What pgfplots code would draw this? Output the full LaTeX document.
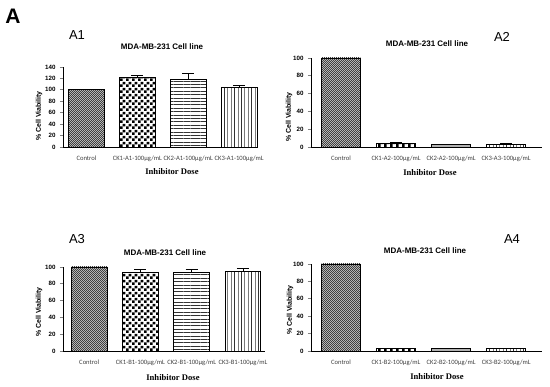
\documentclass[border=0pt]{standalone}
\usepackage{pgfplots}
\pgfplotsset{compat=1.18}
\usepackage{fontspec}
\setmainfont{Liberation Sans}
\newfontfamily\arial{Liberation Sans}
\newfontfamily\calib{Carlito}
\newfontfamily\tnr{Liberation Serif}
\usetikzlibrary{patterns.meta}
\tikzdeclarepattern{name=finecheck, type=uncolored, bounding box={(0,0) and (2.4pt,2.4pt)}, tile size={(2.4pt,2.4pt)},
  code={\fill (0,0) rectangle (1.2pt,1.2pt); \fill (1.2pt,1.2pt) rectangle (2.4pt,2.4pt);}}
\tikzdeclarepattern{name=bigcheck, type=uncolored, bounding box={(0,0) and (6pt,6pt)}, tile size={(6pt,6pt)},
  code={\fill (0,0) rectangle (3pt,3pt); \fill (3pt,3pt) rectangle (6pt,6pt);}}
\tikzdeclarepattern{name=hlines, type=uncolored, bounding box={(0,-0.5pt) and (3.4pt,0.5pt)}, tile size={(3.4pt,3.4pt)},
  code={\draw[line width=0.9pt] (0,0) -- (3.4pt,0);}}
\tikzdeclarepattern{name=vlines, type=uncolored, bounding box={(-0.5pt,0) and (0.5pt,3.4pt)}, tile size={(3.4pt,3.4pt)},
  code={\draw[line width=0.9pt] (0,0) -- (0,3.4pt);}}
\pgfplotsset{
  panel/.style={
    scale only axis, axis lines=left, axis line style={-, line width=0.9pt},
    enlargelimits=false, ymin=0,
    xtick={0,1,2,3}, xtick style={draw=none},
    tick align=outside, major tick length=3pt, ytick style={line width=0.7pt},
    yticklabel style={font=\arial\bfseries\fontsize{6.2}{7}\selectfont, xshift=-1pt},
    xticklabel style={font=\calib\fontsize{6.6}{7.5}\selectfont, text=black!75, yshift=-2.5pt},
    /pgf/number format/assume math mode=true,
  },
  bb/.style={ybar, bar width=0.7, bar shift=0pt, draw=black, line width=0.9pt},
  ctrl/.style={bb, fill=gray!45, postaction={pattern={finecheck}, pattern color=black!75}},
  ck1/.style={bb, fill=white, postaction={pattern={bigcheck}, pattern color=black}},
  ck2/.style={bb, fill=white, postaction={pattern={hlines}, pattern color=black!80}},
  ck3/.style={bb, fill=white, postaction={pattern={vlines}, pattern color=black!80}},
  eb/.style={error bars/.cd, y dir=plus, y explicit, error mark options={rotate=90, mark size=6pt, line width=0.9pt}, error bar style={line width=0.9pt}},
}
\newcommand{\ttl}{\arial\bfseries\fontsize{8}{9}\selectfont}
\newcommand{\ylab}{\arial\bfseries\fontsize{7}{8}\selectfont}
\newcommand{\xlab}{\tnr\bfseries\fontsize{8.6}{10}\selectfont}
\newcommand{\plab}{\arial\fontsize{13}{15}\selectfont}
\begin{document}
\begin{tikzpicture}
\useasboundingbox (0pt,0pt) rectangle (550pt,387pt);
\node[font=\arial\bfseries\fontsize{21}{24}\selectfont] at (13pt,371pt) {A};
% A1
\begin{axis}[panel, at={(63pt,240pt)}, anchor=south west, width=195pt, height=80pt,
  xmin=-0.46, xmax=3.37, ymax=140, ytick={0,20,...,140},
  xticklabels={Control, CK1-A1-100\textmu g/mL, CK2-A1-100\textmu g/mL, CK3-A1-100\textmu g/mL}]
\addplot[ctrl] coordinates {(0,100)};
\addplot[ck1, eb] coordinates {(1,121) +- (0,5)};
\addplot[ck2, eb] coordinates {(2,119) +- (0,10)};
\addplot[ck3, eb] coordinates {(3,104) +- (0,3)};
\end{axis}
\node[font=\plab] at (77pt,352pt) {A1};
\node[font=\ttl] at (162pt,340pt) {MDA-MB-231 Cell line};
\node[font=\ylab, rotate=90] at (39pt,271pt) {\% Cell Viability};
\node[font=\xlab] at (172pt,215pt) {Inhibitor Dose};
% A2
\begin{axis}[panel, at={(311pt,240pt)}, anchor=south west, width=231pt, height=89pt,
  xmin=-0.545, xmax=3.65, ymax=100, ytick={0,20,...,100},
  xticklabels={Control, CK1-A2-100\textmu g/mL, CK2-A2-100\textmu g/mL, CK3-A3-100\textmu g/mL}]
\addplot[ctrl] coordinates {(0,100)};
\addplot[ck1, eb] coordinates {(1,4) +- (0,0.8)};
\addplot[bb, fill=gray!60] coordinates {(2,3)};
\addplot[ck3, eb] coordinates {(3,3) +- (0,0.8)};
\end{axis}
\node[font=\plab] at (502pt,350pt) {A2};
\node[font=\ttl] at (427pt,343pt) {MDA-MB-231 Cell line};
\node[font=\ylab, rotate=90] at (289pt,270pt) {\% Cell Viability};
\node[font=\xlab] at (430pt,214pt) {Inhibitor Dose};
% A3
\begin{axis}[panel, at={(63pt,36pt)}, anchor=south west, width=202pt, height=84pt,
  xmin=-0.51, xmax=3.43, ymax=100, ytick={0,20,...,100},
  xticklabels={Control, CK1-B1-100\textmu g/mL, CK2-B1-100\textmu g/mL, CK3-B1-100\textmu g/mL}]
\addplot[ctrl] coordinates {(0,100)};
\addplot[ck1, eb] coordinates {(1,94) +- (0,2.5)};
\addplot[ck2, eb] coordinates {(2,94) +- (0,2.5)};
\addplot[ck3, eb] coordinates {(3,95) +- (0,3)};
\end{axis}
\node[font=\plab] at (77pt,148pt) {A3};
\node[font=\ttl] at (165pt,134pt) {MDA-MB-231 Cell line};
\node[font=\ylab, rotate=90] at (39pt,75pt) {\% Cell Viability};
\node[font=\xlab] at (173pt,9pt) {Inhibitor Dose};
% A4
\begin{axis}[panel, at={(311pt,36pt)}, anchor=south west, width=231pt, height=87pt,
  xmin=-0.545, xmax=3.65, ymax=100, ytick={0,20,...,100},
  xticklabels={Control, CK1-B2-100\textmu g/mL, CK2-B2-100\textmu g/mL, CK3-B2-100\textmu g/mL}]
\addplot[ctrl] coordinates {(0,100)};
\addplot[ck1] coordinates {(1,3)};
\addplot[bb, fill=gray!60] coordinates {(2,3)};
\addplot[ck3] coordinates {(3,3)};
\end{axis}
\node[font=\plab] at (512pt,148pt) {A4};
\node[font=\ttl] at (425pt,136pt) {MDA-MB-231 Cell line};
\node[font=\ylab, rotate=90] at (290pt,77pt) {\% Cell Viability};
\node[font=\xlab] at (437pt,10pt) {Inhibitor Dose};
\end{tikzpicture}
\end{document}
